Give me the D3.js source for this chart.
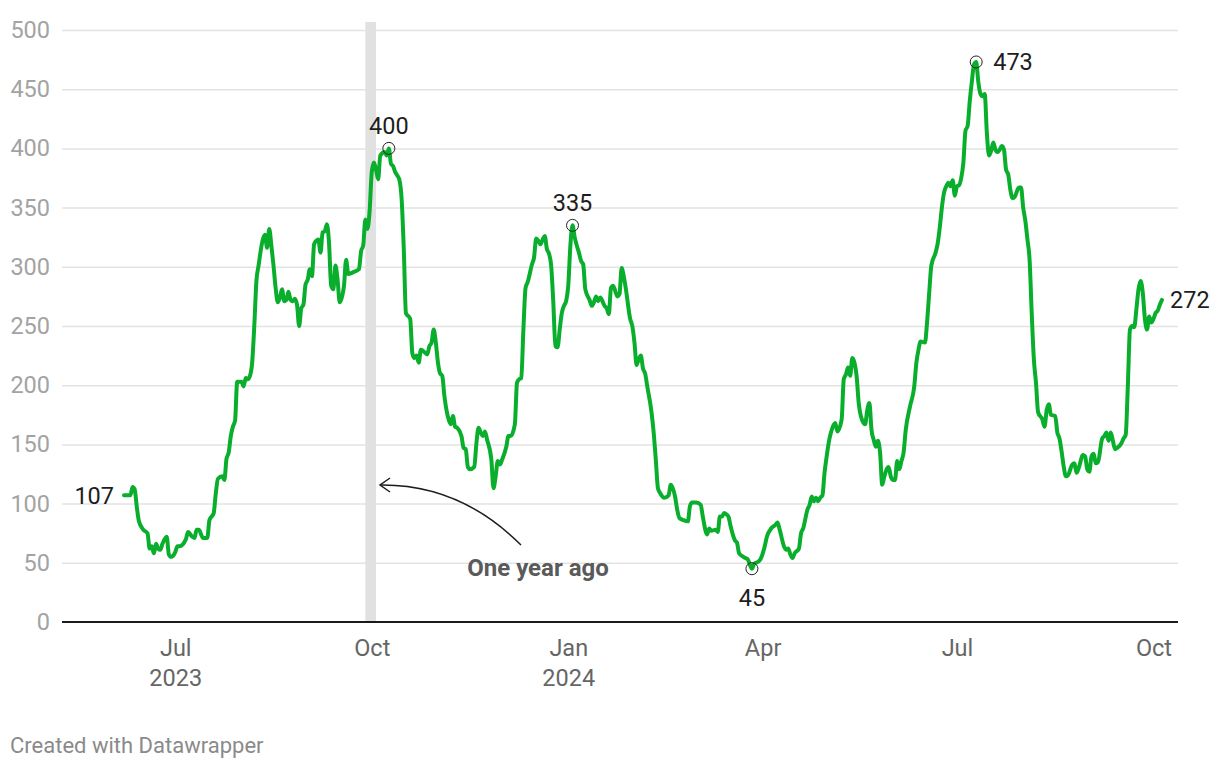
<!DOCTYPE html>
<html>
<head>
<meta charset="utf-8">
<script src="https://cdn.jsdelivr.net/npm/d3@7"></script>
<style>
  body { margin: 0; background: #fff; font-family: Roboto, sans-serif; }
  .chart text { font-family: Roboto, sans-serif; }
</style>
</head>
<body>
<div class="chart"></div>
<script>
const dates = [
  '2023-06-07','2023-06-10','2023-06-11','2023-06-12','2023-06-13','2023-06-14','2023-06-16','2023-06-18','2023-06-19','2023-06-20',
  '2023-06-21','2023-06-22','2023-06-23','2023-06-24','2023-06-25','2023-06-27','2023-06-28','2023-06-29','2023-07-01','2023-07-02',
  '2023-07-03','2023-07-06','2023-07-07','2023-07-09','2023-07-10','2023-07-11','2023-07-12','2023-07-14','2023-07-16','2023-07-17',
  '2023-07-19','2023-07-20','2023-07-21','2023-07-23','2023-07-24','2023-07-25','2023-07-26','2023-07-27','2023-07-28','2023-07-29',
  '2023-07-30','2023-08-01','2023-08-02','2023-08-03','2023-08-04','2023-08-05','2023-08-06','2023-08-07','2023-08-08','2023-08-09',
  '2023-08-11','2023-08-12','2023-08-13','2023-08-14','2023-08-15','2023-08-16','2023-08-17','2023-08-18','2023-08-19','2023-08-20',
  '2023-08-21','2023-08-22','2023-08-23','2023-08-24','2023-08-25','2023-08-26','2023-08-27','2023-08-28','2023-08-29','2023-08-30',
  '2023-08-31','2023-09-01','2023-09-02','2023-09-03','2023-09-04','2023-09-05','2023-09-06','2023-09-07','2023-09-08','2023-09-09',
  '2023-09-10','2023-09-11','2023-09-12','2023-09-13','2023-09-14','2023-09-15','2023-09-16','2023-09-18','2023-09-19','2023-09-20',
  '2023-09-23','2023-09-25','2023-09-26','2023-09-27','2023-09-28','2023-09-29','2023-09-30','2023-10-01','2023-10-02','2023-10-03',
  '2023-10-04','2023-10-05','2023-10-07','2023-10-08','2023-10-09','2023-10-10','2023-10-11','2023-10-12','2023-10-13','2023-10-14',
  '2023-10-15','2023-10-16','2023-10-17','2023-10-19','2023-10-20','2023-10-21','2023-10-22','2023-10-23','2023-10-24','2023-10-25',
  '2023-10-27','2023-10-28','2023-10-29','2023-10-30','2023-10-31','2023-11-01','2023-11-02','2023-11-03','2023-11-04','2023-11-06',
  '2023-11-07','2023-11-08','2023-11-09','2023-11-10','2023-11-12','2023-11-13','2023-11-14','2023-11-15','2023-11-16','2023-11-18',
  '2023-11-19','2023-11-20','2023-11-21','2023-11-22','2023-11-23','2023-11-24','2023-11-26','2023-11-27','2023-11-28','2023-11-29',
  '2023-11-30','2023-12-01','2023-12-03','2023-12-04','2023-12-05','2023-12-07','2023-12-08','2023-12-09','2023-12-10','2023-12-11',
  '2023-12-12','2023-12-13','2023-12-15','2023-12-16','2023-12-17','2023-12-18','2023-12-19','2023-12-20','2023-12-21','2023-12-22',
  '2023-12-23','2023-12-24','2023-12-25','2023-12-26','2023-12-27','2023-12-28','2023-12-29','2023-12-30','2023-12-31','2024-01-01',
  '2024-01-02','2024-01-03','2024-01-04','2024-01-05','2024-01-06','2024-01-07','2024-01-08','2024-01-09','2024-01-11','2024-01-12',
  '2024-01-13','2024-01-14','2024-01-15','2024-01-16','2024-01-18','2024-01-19','2024-01-20','2024-01-21','2024-01-22','2024-01-24',
  '2024-01-25','2024-01-26','2024-01-27','2024-01-28','2024-01-30','2024-01-31','2024-02-01','2024-02-02','2024-02-03','2024-02-04',
  '2024-02-05','2024-02-06','2024-02-07','2024-02-09','2024-02-10','2024-02-11','2024-02-12','2024-02-13','2024-02-15','2024-02-17',
  '2024-02-18','2024-02-20','2024-02-21','2024-02-22','2024-02-24','2024-02-26','2024-02-27','2024-02-28','2024-03-01','2024-03-03',
  '2024-03-04','2024-03-06','2024-03-07','2024-03-08','2024-03-10','2024-03-11','2024-03-12','2024-03-13','2024-03-14','2024-03-15',
  '2024-03-16','2024-03-17','2024-03-19','2024-03-20','2024-03-21','2024-03-23','2024-03-24','2024-03-25','2024-03-27','2024-03-28',
  '2024-03-30','2024-03-31','2024-04-02','2024-04-03','2024-04-05','2024-04-07','2024-04-08','2024-04-09','2024-04-11','2024-04-12',
  '2024-04-13','2024-04-14','2024-04-15','2024-04-16','2024-04-18','2024-04-19','2024-04-20','2024-04-22','2024-04-23','2024-04-24',
  '2024-04-25','2024-04-26','2024-04-27','2024-04-28','2024-04-29','2024-04-30','2024-05-01','2024-05-02','2024-05-03','2024-05-05',
  '2024-05-06','2024-05-08','2024-05-09','2024-05-10','2024-05-11','2024-05-12','2024-05-13','2024-05-14','2024-05-15','2024-05-16',
  '2024-05-17','2024-05-19','2024-05-20','2024-05-21','2024-05-22','2024-05-23','2024-05-24','2024-05-25','2024-05-26','2024-05-27',
  '2024-05-28','2024-05-30','2024-05-31','2024-06-01','2024-06-02','2024-06-03','2024-06-04','2024-06-05','2024-06-06','2024-06-07',
  '2024-06-09','2024-06-11','2024-06-12','2024-06-13','2024-06-14','2024-06-16','2024-06-17','2024-06-18','2024-06-19','2024-06-21',
  '2024-06-22','2024-06-23','2024-06-24','2024-06-25','2024-06-26','2024-06-27','2024-06-28','2024-06-29','2024-06-30','2024-07-01',
  '2024-07-02','2024-07-03','2024-07-04','2024-07-05','2024-07-06','2024-07-07','2024-07-08','2024-07-09','2024-07-10','2024-07-11',
  '2024-07-12','2024-07-13','2024-07-14','2024-07-15','2024-07-16','2024-07-17','2024-07-18','2024-07-19','2024-07-20','2024-07-21',
  '2024-07-22','2024-07-23','2024-07-24','2024-07-25','2024-07-26','2024-07-27','2024-07-28','2024-07-30','2024-07-31','2024-08-01',
  '2024-08-02','2024-08-03','2024-08-04','2024-08-05','2024-08-06','2024-08-07','2024-08-08','2024-08-10','2024-08-11','2024-08-12',
  '2024-08-13','2024-08-14','2024-08-16','2024-08-17','2024-08-18','2024-08-19','2024-08-20','2024-08-21','2024-08-22','2024-08-24',
  '2024-08-25','2024-08-26','2024-08-27','2024-08-29','2024-08-30','2024-08-31','2024-09-01','2024-09-02','2024-09-03','2024-09-04',
  '2024-09-05','2024-09-07','2024-09-08','2024-09-09','2024-09-10','2024-09-11','2024-09-12','2024-09-13','2024-09-14','2024-09-16',
  '2024-09-17','2024-09-18','2024-09-19','2024-09-20','2024-09-21','2024-09-22','2024-09-23','2024-09-24','2024-09-25','2024-09-26',
  '2024-09-27','2024-09-28','2024-09-29','2024-09-30','2024-10-01','2024-10-02','2024-10-03','2024-10-04','2024-10-05'
];

const values = [
  107,107,114,112,97,85,78,75,62,64,
  58,66,62,61,66,72,57,55,59,64,
  64,70,76,72,71,78,78,71,71,86,
  92,109,121,123,120,138,143,157,165,170,
  203,203,199,206,205,208,219,250,288,301,
  323,327,316,332,318,301,282,270,274,281,
  271,272,279,272,271,273,268,250,265,268,
  285,289,298,292,319,322,323,312,329,330,
  336,320,284,281,301,289,270,284,306,294,
  296,298,313,318,340,332,347,380,388,382,
  374,394,397,394,400,387,385,380,377,373,
  357,315,261,256,227,223,225,219,230,229,
  226,233,236,247,236,219,210,208,191,171,
  167,174,165,164,157,147,146,131,129,131,
  151,164,160,157,161,154,137,113,123,136,
  133,137,148,157,157,167,202,205,206,247,
  282,287,302,308,324,322,319,323,326,315,
  311,301,270,233,232,247,261,267,271,284,
  318,335,325,318,312,305,302,281,272,267,
  270,275,271,274,267,265,260,282,284,275,
  277,299,292,281,256,250,236,217,222,225,
  214,210,199,177,160,137,113,109,105,107,
  116,106,95,88,86,85,98,101,101,99,
  89,74,79,77,78,76,89,89,92,91,
  89,81,69,67,58,55,54,53,45,49,
  51,53,64,72,79,82,84,78,64,61,
  62,57,54,58,62,75,79,95,99,106,
  102,105,102,105,107,126,140,152,160,168,
  161,171,205,209,215,208,223,219,208,185,
  174,167,179,185,162,154,148,153,143,116,
  123,131,123,120,120,136,129,136,143,162,
  182,199,219,230,237,236,253,278,301,312,
  320,334,351,363,368,371,368,373,360,368,
  369,375,388,415,419,440,457,471,473,456,
  446,444,446,413,394,398,405,399,397,399,
  402,399,382,378,365,358,359,367,367,350,
  339,323,306,261,222,202,177,171,165,179,
  184,175,174,160,155,144,131,123,124,133,
  134,126,130,141,140,129,127,140,142,134,
  135,155,157,160,153,160,153,146,147,151,
  155,158,199,247,250,249,264,281,288,278,
  256,247,258,253,256,261,263,268,272
];

const yTicks = [0, 50, 100, 150, 200, 250, 300, 350, 400, 450, 500];
const xTicks = ['2023-07-01', '2023-10-01', '2024-01-01', '2024-04-01', '2024-07-01', '2024-10-01'];
const markedDates = ['2023-10-09', '2024-01-03', '2024-03-27', '2024-07-10'];
const bandDates = ['2023-09-28', '2023-10-03'];
const bandLabel = 'One year ago';

const parse = d3.timeParse('%Y-%m-%d');
const data = dates.map((d, i) => ({ date: parse(d), value: values[i] }));

const width = 1220;
const height = 768;
const plot = { left: 62, right: 1178, top: 30, bottom: 622 };
const lineColor = '#0aae2d';
const fontSize = '23.5px';

const svg = d3.select('.chart').append('svg')
  .attr('width', width)
  .attr('height', height);

const x = d3.scaleTime()
  .domain(d3.extent(data, d => d.date))
  .range([124, 1162]);

const y = d3.scaleLinear()
  .domain([0, 500])
  .range([plot.bottom, plot.top]);

// y grid + labels
const yAxis = svg.append('g')
  .attr('transform', `translate(${plot.left},0)`)
  .call(d3.axisLeft(y).tickValues(yTicks).tickSize(-(plot.right - plot.left)).tickPadding(12));
yAxis.select('.domain').remove();
yAxis.selectAll('line')
  .attr('stroke', '#e3e3e3')
  .attr('stroke-width', 1.5)
  .filter(d => d === 0).remove();
yAxis.selectAll('text')
  .attr('fill', '#a3a3a3')
  .style('font-size', fontSize);

// one year ago band, on top of gridlines
svg.append('rect')
  .attr('x', x(parse(bandDates[0])))
  .attr('y', 22)
  .attr('width', x(parse(bandDates[1])) - x(parse(bandDates[0])))
  .attr('height', plot.bottom - 22)
  .attr('fill', '#e1e1e1');

// x axis
const fmtMonth = d3.timeFormat('%b');
const xAxis = svg.append('g')
  .attr('transform', `translate(0,${plot.bottom})`)
  .call(d3.axisBottom(x).tickValues(xTicks.map(parse)).tickSize(0).tickPadding(17).tickFormat(fmtMonth));
xAxis.select('.domain').remove();
xAxis.selectAll('text')
  .attr('fill', '#666')
  .style('font-size', fontSize)
  .each(function(d) {
    if (d.getMonth() === 6 && d.getFullYear() === 2023 || d.getMonth() === 0) {
      d3.select(this).append('tspan')
        .attr('x', 0)
        .attr('dy', '1.28em')
        .text(d.getFullYear());
    }
  });

svg.append('line')
  .attr('x1', plot.left)
  .attr('x2', plot.right)
  .attr('y1', plot.bottom)
  .attr('y2', plot.bottom)
  .attr('stroke', '#1a1a1a')
  .attr('stroke-width', 2);

// the line
const line = d3.line()
  .x(d => x(d.date))
  .y(d => y(d.value))
  .curve(d3.curveMonotoneX);

svg.append('path')
  .datum(data)
  .attr('fill', 'none')
  .attr('stroke', lineColor)
  .attr('stroke-width', 4)
  .attr('stroke-linejoin', 'round')
  .attr('stroke-linecap', 'round')
  .attr('d', line);

// highlighted points
const marks = data.filter(d => markedDates.includes(d3.timeFormat('%Y-%m-%d')(d.date)));
svg.selectAll('.mark')
  .data(marks)
  .enter()
  .append('circle')
  .attr('class', 'mark')
  .attr('cx', d => x(d.date))
  .attr('cy', d => y(d.value))
  .attr('r', 6)
  .attr('fill', 'none')
  .attr('stroke', '#222')
  .attr('stroke-width', 1);

const labelPos = [
  { dx: 0, dy: -23, anchor: 'middle' },
  { dx: 0, dy: -23, anchor: 'middle' },
  { dx: 0, dy: 29, anchor: 'middle' },
  { dx: 17, dy: 0, anchor: 'start' },
];
svg.selectAll('.mark-label')
  .data(marks)
  .enter()
  .append('text')
  .attr('class', 'mark-label')
  .attr('x', (d, i) => x(d.date) + labelPos[i].dx)
  .attr('y', (d, i) => y(d.value) + labelPos[i].dy)
  .attr('dy', '0.35em')
  .attr('text-anchor', (d, i) => labelPos[i].anchor)
  .attr('fill', '#1d1d1d')
  .style('font-size', fontSize)
  .text(d => d.value);

// start and end labels
const first = data[0];
const last = data[data.length - 1];
svg.append('text')
  .attr('x', x(first.date) - 10)
  .attr('y', y(first.value))
  .attr('dy', '0.35em')
  .attr('text-anchor', 'end')
  .attr('fill', '#1d1d1d')
  .style('font-size', fontSize)
  .text(first.value);
svg.append('text')
  .attr('x', x(last.date) + 8)
  .attr('y', y(last.value))
  .attr('dy', '0.35em')
  .attr('fill', '#1d1d1d')
  .style('font-size', fontSize)
  .text(last.value);

// annotation arrow
const bandRight = x(parse(bandDates[1]));
svg.append('path')
  .attr('d', `M521,545 Q460,484 ${bandRight + 4},485`)
  .attr('fill', 'none')
  .attr('stroke', '#1d1d1d')
  .attr('stroke-width', 1.5);
svg.append('path')
  .attr('d', `M${bandRight + 14},478 L${bandRight + 4},485 L${bandRight + 14},492`)
  .attr('fill', 'none')
  .attr('stroke', '#1d1d1d')
  .attr('stroke-width', 1.5);
svg.append('text')
  .attr('x', 538)
  .attr('y', 568)
  .attr('dy', '0.35em')
  .attr('text-anchor', 'middle')
  .attr('fill', '#5a5a5a')
  .style('font-size', '24px')
  .style('font-weight', 'bold')
  .text(bandLabel);

svg.append('text')
  .attr('x', 10)
  .attr('y', 745)
  .attr('dy', '0.35em')
  .attr('fill', '#8a8a8a')
  .style('font-size', '22px')
  .text('Created with Datawrapper');
</script>
</body>
</html>
